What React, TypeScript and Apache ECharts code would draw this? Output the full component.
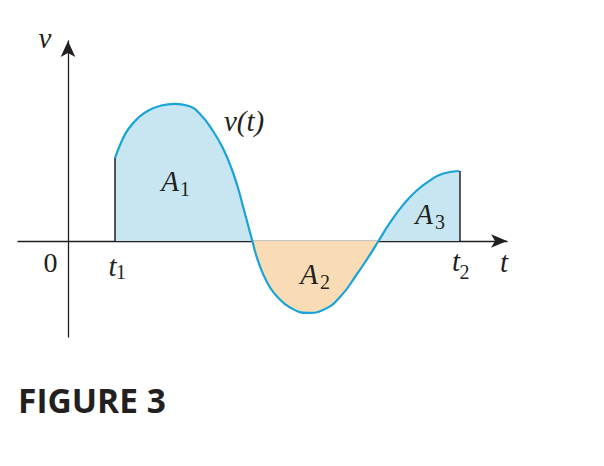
import React, { useEffect, useRef } from "react";
import * as echarts from "echarts";

// curve v(t) (t: 0 at the v-axis)
const tValues = [4.7, 5.33, 6.0, 7.0, 8.0, 9.33, 10.67, 12.0, 13.2, 14.53, 15.53, 16.37, 17.03, 17.53, 18.03, 18.43, 18.87, 19.53, 20.2, 20.9, 22.2, 24.0, 25.5, 27.2, 28.87, 30.2, 31.05, 32.2, 33.53, 34.87, 36.2, 37.53, 39.13];
const vValues = [8.3, 9.9, 11.15, 12.3, 13.03, 13.55, 13.72, 13.52, 12.7, 10.95, 9.2, 7.2, 5.2, 3.35, 1.5, 0, -1.58, -3.36, -4.63, -5.54, -6.65, -7.19, -6.89, -5.6, -3.35, -1.36, 0, 1.84, 3.64, 5.05, 6.05, 6.75, 7.0];
const t1 = 4.7;
const t2 = 39.13;
const xRange = [-5, 43.9];
const yRange = [-9.6, 20];

const curve = tValues.map((t, i) => [t, vValues[i]]);
const zeroIdx = vValues.map((v, i) => (v === 0 ? i : -1)).filter((i) => i >= 0);
const segA1 = curve.slice(0, zeroIdx[0] + 1);
const segA2 = curve.slice(zeroIdx[0], zeroIdx[1] + 1);
const segA3 = curve.slice(zeroIdx[1]);

const INK = "#231f20";
const BLUE = "#19a3d8";
const FILL_BLUE = "#c8e6f1";
const FILL_ORANGE = "#f9dcb6";
const SERIF = "'Liberation Serif', 'DejaVu Serif', serif";
const SMOOTH = 0.5;

export default function App() {
  const ref = useRef<HTMLDivElement>(null);
  useEffect(() => {
    if (!ref.current) return;
    const chart = echarts.init(ref.current, undefined, { renderer: "svg" });
    const areaSeries = (data: number[][], color: string) => ({
      type: "line",
      data,
      smooth: SMOOTH,
      showSymbol: false,
      silent: true,
      lineStyle: { width: 0, opacity: 0 },
      areaStyle: { color, opacity: 1 },
      z: 1,
    });
    const italic = (text: string, x: number, y: number, size = 29) => ({
      type: "text",
      x,
      y,
      style: { text, font: `italic ${size}px ${SERIF}`, fill: INK, textAlign: "center", textVerticalAlign: "middle" },
      z: 10,
    });
    const roman = (text: string, x: number, y: number, size = 20) => ({
      type: "text",
      x,
      y,
      style: { text, font: `${size}px ${SERIF}`, fill: INK, textAlign: "center", textVerticalAlign: "middle" },
      z: 10,
    });
    chart.setOption({
      animation: false,
      grid: { left: 18, right: 97, top: 41, bottom: 129 },
      xAxis: {
        type: "value",
        min: xRange[0],
        max: xRange[1],
        axisLine: { show: true, onZero: true, symbol: ["none", "arrow"], symbolSize: [10, 16], lineStyle: { color: INK, width: 1.3 } },
        axisTick: { show: false },
        axisLabel: { show: false },
        splitLine: { show: false },
      },
      yAxis: {
        type: "value",
        min: yRange[0],
        max: yRange[1],
        axisLine: { show: true, onZero: true, symbol: ["none", "arrow"], symbolSize: [11, 16], lineStyle: { color: INK, width: 1.3 } },
        axisTick: { show: false },
        axisLabel: { show: false },
        splitLine: { show: false },
      },
      series: [
        areaSeries(segA1, FILL_BLUE),
        areaSeries(segA2, FILL_ORANGE),
        areaSeries(segA3, FILL_BLUE),
        {
          type: "line",
          data: curve,
          smooth: SMOOTH,
          showSymbol: false,
          silent: true,
          lineStyle: { color: BLUE, width: 2.2 },
          z: 3,
          markLine: {
            silent: true,
            symbol: ["none", "none"],
            label: { show: false },
            lineStyle: { color: INK, width: 1.5, type: "solid" },
            data: [
              [{ coord: [t1, 0] }, { coord: [t1, vValues[0]] }],
              [{ coord: [t2, 0] }, { coord: [t2, vValues[vValues.length - 1]] }],
            ],
          },
        },
      ],
      graphic: [
        italic("v", 45, 38),
        italic("v(t)", 244, 121),
        italic("A", 170, 181),
        roman("1", 185, 188.5),
        italic("A", 309, 274),
        roman("2", 325, 282),
        italic("A", 424, 214),
        roman("3", 440, 221.5),
        roman("0", 50.5, 262, 28),
        italic("t", 112.5, 266),
        roman("1", 121, 271.5),
        italic("t", 456, 261),
        roman("2", 464.5, 271.5),
        italic("t", 504, 262),
        {
          type: "text",
          x: 18,
          y: 400,
          style: { text: "FIGURE 3", font: "bold 33.5px 'Open Sans', 'Noto Sans', sans-serif", fill: INK, textAlign: "left", textVerticalAlign: "middle" },
        },
      ],
    });
    return () => chart.dispose();
  }, []);
  return <div ref={ref} style={{ position: "absolute", left: 0, top: 0, width: 604, height: 466, background: "#fff" }} />;
}
